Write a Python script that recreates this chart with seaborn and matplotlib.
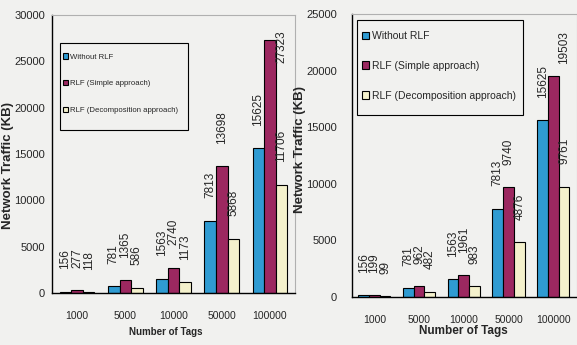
import pandas as pd
import matplotlib.pyplot as plt
import seaborn as sns
from matplotlib.patches import Rectangle

tags = ['1000', '5000', '10000', '50000', '100000']
series = ['Without RLF', 'RLF (Simple approach)', 'RLF (Decomposition approach)']

# left chart
left_without = [156, 781, 1563, 7813, 15625]
left_simple = [277, 1365, 2740, 13698, 27323]
left_decomp = [118, 586, 1173, 5868, 11706]

# right chart
right_without = [156, 781, 1563, 7813, 15625]
right_simple = [199, 962, 1961, 9740, 19503]
right_decomp = [99, 482, 983, 4876, 9761]

colors = ['#2f9bd2', '#9c2860', '#f4f1cc']
bg = '#f1f1ef'

sns.set_theme(style='white')
plt.rcParams['font.family'] = ['Liberation Sans', 'DejaVu Sans']


def make_df(a, b, c):
    rows = []
    for name, vals in zip(series, [a, b, c]):
        for t, v in zip(tags, vals):
            rows.append({'tags': t, 'series': name, 'traffic': v})
    return pd.DataFrame(rows)


fig = plt.figure(figsize=(5.77, 3.45), dpi=100, facecolor=bg)
ax1 = fig.add_axes([52 / 577, 1 - 293 / 345, 243 / 577, 278 / 345])
ax2 = fig.add_axes([352 / 577, 1 - 297 / 345, 225 / 577, 283 / 345])

setups = [
    dict(ax=ax1, df=make_df(left_without, left_simple, left_decomp), ymax=30000,
         xl=(-0.52, 4.52), box=(0.033, 0.586, 0.527, 0.313), leg_at=(0.045, 0.863),
         leg_fs=5.6, leg_sp=2.5, ypad=1, ylc=(-0.158, 0.46), xlc=(0.47, -0.122),
         xl_fs=7, last=('center', -5)),
    dict(ax=ax2, df=make_df(right_without, right_simple, right_decomp), ymax=25000,
         xl=(-0.44, 4.53), box=(0.022, 0.643, 0.738, 0.336), leg_at=(0.045, 0.94),
         leg_fs=7.5, leg_sp=1.9, ypad=7, ylc=(-0.205, 0.52), xlc=(0.493, -0.099),
         xl_fs=8.5, last=('bottom', 9)),
]

for s in setups:
    ax = s['ax']
    ymax = s['ymax']
    ax.set_facecolor(bg)
    sns.barplot(data=s['df'], x='tags', y='traffic', hue='series', order=tags,
                hue_order=series, palette=colors, width=0.72, edgecolor='black',
                linewidth=0.8, saturation=1, ax=ax)
    bar_w = ax.patches[0].get_width()
    for si, cont in enumerate(ax.containers):
        for ti, p in enumerate(cont):
            h = p.get_height()
            x = p.get_x() + p.get_width() / 2
            va, dy = 'bottom', 16
            if si == 1 and ti == len(tags) - 1:
                # label sits over the neighbouring bar, like in the original
                x += bar_w
                va, dy = s['last']
            ax.annotate(str(int(h)), (x, h), xytext=(0, dy), textcoords='offset points',
                        rotation=90, ha='center', va=va, fontsize=8.5,
                        annotation_clip=False)
    ax.set_ylim(0, ymax)
    ax.set_xlim(*s['xl'])
    ax.set_yticks(range(0, ymax + 1, 5000))
    ax.set_yticklabels([str(v) for v in range(0, ymax + 1, 5000)], fontsize=8)
    ax.set_xticks(range(len(tags)))
    ax.set_xticklabels(tags, fontsize=7.5)
    ax.set_xticks([i - 0.5 for i in range(len(tags) + 1)], minor=True)
    ax.tick_params(axis='x', which='major', length=0, pad=13)
    ax.tick_params(axis='x', which='minor', length=4, width=0.8, direction='out', color='black')
    ax.tick_params(axis='y', length=4, width=0.8, direction='out', color='black', pad=s['ypad'])
    ax.set_xlabel('Number of Tags', fontsize=s['xl_fs'], fontweight='bold')
    ax.xaxis.set_label_coords(*s['xlc'])
    ax.set_ylabel('Network Traffic (KB)', fontsize=9.5, fontweight='bold')
    ax.yaxis.set_label_coords(*s['ylc'])
    for sp in ['left', 'bottom']:
        ax.spines[sp].set_color('black')
        ax.spines[sp].set_linewidth(1)
    for sp in ['top', 'right']:
        ax.spines[sp].set_color('#b0b0b0')
        ax.spines[sp].set_linewidth(0.8)
    bx, by, bw, bh = s['box']
    ax.add_patch(Rectangle((bx, by), bw, bh, transform=ax.transAxes, facecolor=bg,
                           edgecolor='black', linewidth=0.8, zorder=4))
    ax.legend(loc='upper left', bbox_to_anchor=s['leg_at'], fontsize=s['leg_fs'],
              frameon=False, handlelength=0.7, handleheight=0.7, handletextpad=0.2,
              labelspacing=s['leg_sp'], borderpad=0, borderaxespad=0)

fig.savefig('out.png', dpi=100, facecolor=bg)
